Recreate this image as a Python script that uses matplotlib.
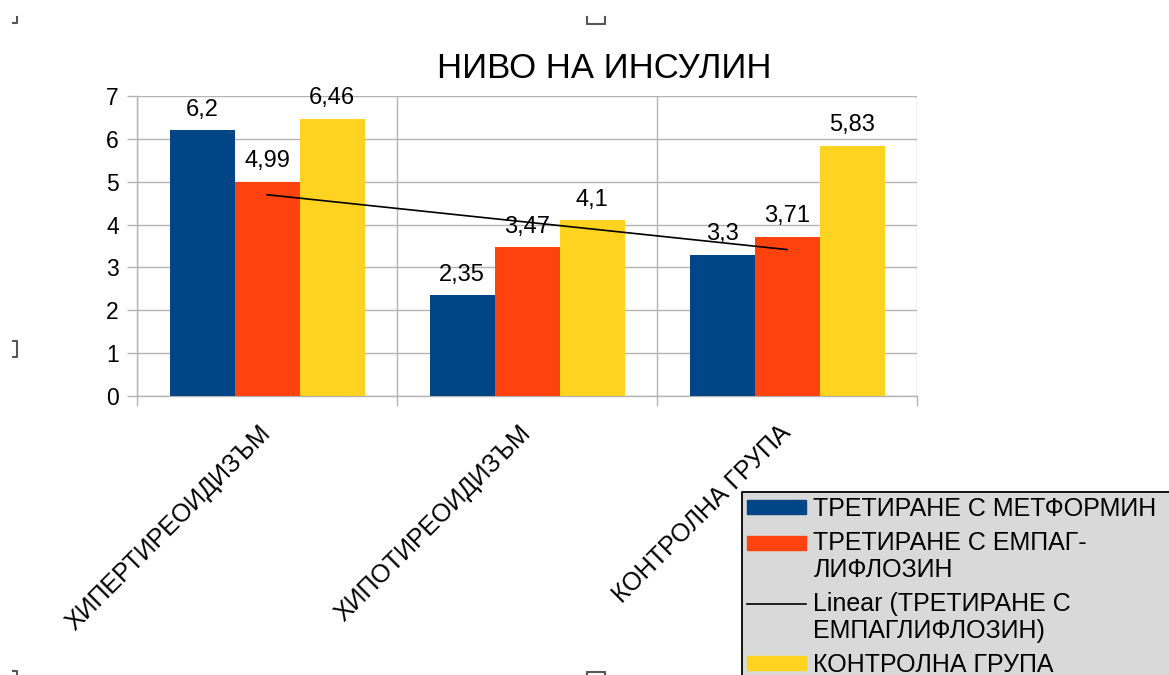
import numpy as np
import matplotlib
matplotlib.use("Agg")
import matplotlib.pyplot as plt
from matplotlib.lines import Line2D
from matplotlib.patches import Patch, Rectangle
from matplotlib.legend_handler import HandlerPatch, HandlerLine2D
from matplotlib.transforms import Affine2D

plt.rcParams['font.family'] = ['Liberation Sans', 'DejaVu Sans']

# ---- data ----
title = "НИВО НА ИНСУЛИН"
categories = ["ХИПЕРТИРЕОИДИЗЪМ", "ХИПОТИРЕОИДИЗЪМ", "КОНТРОЛНА ГРУПА"]
metformin = [6.2, 2.35, 3.3]
empagliflozin = [4.99, 3.47, 3.71]
control = [6.46, 4.1, 5.83]
series_names = ["ТРЕТИРАНЕ С МЕТФОРМИН",
                "ТРЕТИРАНЕ С ЕМПАГ-\nЛИФЛОЗИН",
                "КОНТРОЛНА ГРУПА"]
trend_name = "Linear (ТРЕТИРАНЕ С\nЕМПАГЛИФЛОЗИН)"
y_ticks = [0, 1, 2, 3, 4, 5, 6, 7]

colors = ["#004586", "#ff420e", "#ffd320"]
grid_col = "#b3b3b3"
legend_bg = "#d9d9d9"

W, H = 1169, 675
fig = plt.figure(figsize=(W / 100, H / 100), dpi=100)
ax = fig.add_axes([137 / W, 1 - 396 / H, 780 / W, 300 / H])

x = np.arange(len(categories))
width = 0.25
all_series = [metformin, empagliflozin, control]
for i, (vals, col) in enumerate(zip(all_series, colors)):
    b = ax.bar(x + (i - 1) * width, vals, width, color=col, zorder=3)
    for rect, v in zip(b, vals):
        ax.annotate(f"{v:g}".replace(".", ","),
                    (rect.get_x() + rect.get_width() / 2, v),
                    xytext=(0, 7), textcoords="offset points",
                    ha="center", va="bottom", fontsize=17, zorder=5)

# linear trend for the empagliflozin series
k, b0 = np.polyfit(x, empagliflozin, 1)
trend, = ax.plot(x, k * x + b0, color="black", lw=1.2, zorder=4)

ax.set_xlim(-0.5, 2.5)
ax.set_ylim(0, 7)
ax.set_yticks(y_ticks)
ax.set_yticklabels([str(t) for t in y_ticks], fontsize=16.5)

ax.set_xticks(x)
ax.set_xticklabels(categories, rotation=45, ha="right", va="center",
                   rotation_mode="anchor", fontsize=18)
ax.set_xticks(np.arange(-0.5, 3.0, 1.0), minor=True)
ax.tick_params(axis="x", which="major", length=0, pad=24)
ax.tick_params(axis="x", which="minor", length=7, color=grid_col, width=1)
ax.tick_params(axis="y", length=7, color=grid_col, width=1, pad=6)

ax.grid(axis="y", which="major", color=grid_col, lw=1, zorder=0)
ax.grid(axis="x", which="minor", color=grid_col, lw=1, zorder=0)
for s in ["top", "right"]:
    ax.spines[s].set_visible(False)
for s in ["left", "bottom"]:
    ax.spines[s].set_color(grid_col)
    ax.spines[s].set_linewidth(1)

fig.text(604 / W, 1 - 68 / H, title, ha="center", va="center", fontsize=25)


# legend keys sit on the first line of a wrapped label
LINE_SP = 1.15


class _TopPatch(HandlerPatch):
    def __init__(self, lines=1, **kw):
        super().__init__(**kw)
        self.lines = lines

    def create_artists(self, legend, orig_handle, xdescent, ydescent,
                       width, height, fontsize, trans):
        shift = 0.5 * LINE_SP * fontsize * (self.lines - 1)
        return super().create_artists(legend, orig_handle, xdescent, ydescent,
                                      width, height, fontsize,
                                      Affine2D().translate(0, shift) + trans)


class _TopLine(HandlerLine2D):
    def __init__(self, lines=1, **kw):
        super().__init__(**kw)
        self.lines = lines

    def create_artists(self, legend, orig_handle, xdescent, ydescent,
                       width, height, fontsize, trans):
        shift = 0.5 * LINE_SP * fontsize * (self.lines - 1)
        return super().create_artists(legend, orig_handle, xdescent, ydescent,
                                      width, height, fontsize,
                                      Affine2D().translate(0, shift) + trans)


# legend panel: grey box running off the right and bottom edges
lx, ly = 742, 492
fig.add_artist(Rectangle((lx / W, -0.1), 1.2 - lx / W, 1 - ly / H + 0.1,
                         transform=fig.transFigure, facecolor=legend_bg,
                         edgecolor="none", zorder=1))
fig.add_artist(Line2D([lx / W, lx / W, 1.05], [-0.05, 1 - ly / H, 1 - ly / H],
                      transform=fig.transFigure, color="black", lw=1.3,
                      zorder=2))

h_met = Patch(color=colors[0])
h_emp = Patch(color=colors[1])
h_ctl = Patch(color=colors[2])
handles = [h_met, h_emp, trend, h_ctl]
labels = [series_names[0], series_names[1], trend_name, series_names[2]]
hmap = {h_met: _TopPatch(series_names[0].count("\n") + 1),
        h_emp: _TopPatch(series_names[1].count("\n") + 1),
        trend: _TopLine(trend_name.count("\n") + 1),
        h_ctl: _TopPatch(series_names[2].count("\n") + 1)}
leg = fig.legend(handles, labels, loc="upper left",
                 bbox_to_anchor=(lx / W, 1 - ly / H), borderaxespad=0,
                 fontsize=18, frameon=False, borderpad=0.2,
                 handlelength=2.35, handletextpad=0.3, labelspacing=0.4,
                 handleheight=0.5, handler_map=hmap)
leg.set_zorder(3)
for t in leg.get_texts():
    t.set_linespacing(LINE_SP)

# frame handles around the embedded object
mark_col = "#555555"


def mark(xs, ys):
    fig.add_artist(Line2D([v / W for v in xs], [1 - v / H for v in ys],
                          transform=fig.transFigure, color=mark_col, lw=1.5))


mark([13, 17, 17], [23, 23, 17])
mark([587, 587, 605, 605], [17, 24, 24, 17])
mark([13, 17, 17, 13], [341, 341, 357, 357])
mark([13, 17, 17], [671, 671, 676])
mark([587, 587, 605, 605], [678, 672, 672, 678])

fig.savefig("out.png", dpi=100)
